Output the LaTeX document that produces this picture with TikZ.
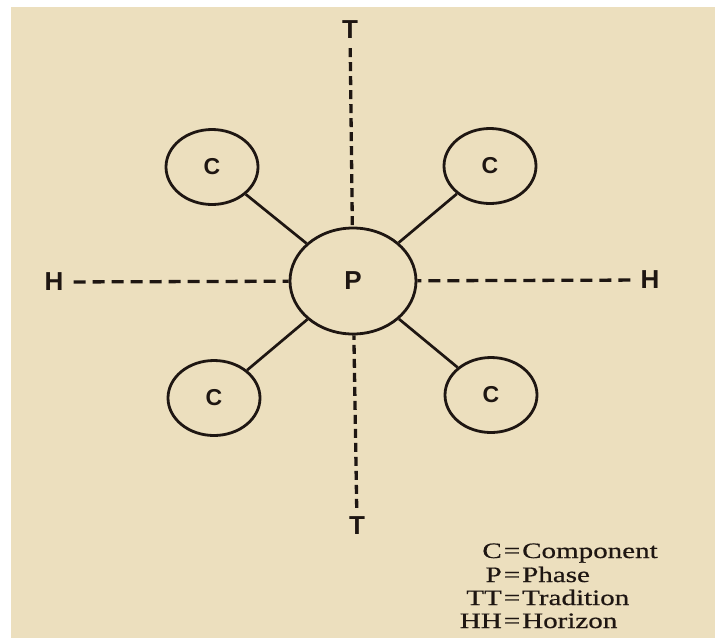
\documentclass[tikz,border=0pt]{standalone}
\usepackage{fontspec}
\usetikzlibrary{shapes.geometric}
\newfontfamily\lblfont{Liberation Sans}
\newfontfamily\legfont[FakeStretch=1.32,FakeBold=0.6]{Liberation Serif}
\definecolor{paper}{RGB}{236,223,190}
\definecolor{ink}{RGB}{30,22,18}
\tikzset{
  ell/.style={ellipse, draw=ink, line width=2.8pt, inner sep=0pt},
  pbox/.style={ell, minimum width=126pt, minimum height=106pt, font=\lblfont\bfseries\fontsize{26}{26}\selectfont, text=ink},
  cbox/.style={ell, minimum width=92pt, minimum height=75pt, font=\lblfont\bfseries\fontsize{23}{23}\selectfont, text=ink},
  axlbl/.style={font=\lblfont\bfseries\fontsize{26}{26}\selectfont, text=ink, inner sep=0pt},
  link/.style={draw=ink, line width=2.7pt},
  hdash/.style={draw=ink, line width=3.3pt, dash pattern=on 12pt off 7pt},
  vdash/.style={draw=ink, line width=3.3pt, dash pattern=on 9pt off 5pt},
  leg/.style={font=\legfont\fontsize{22}{22}\selectfont, text=ink, inner sep=0pt}
}
\begin{document}
\begin{tikzpicture}[x=1pt,y=-1pt]
\useasboundingbox (0,0) rectangle (715,638);
\fill[white] (0,0) rectangle (715,638);
\fill[paper] (11,7) rectangle (715,638);
% centre phase
\node[pbox] (P) at (353,281) {P};
% components
\node[cbox] (TL) at (212,167) {C};
\node[cbox] (TR) at (490,166) {C};
\node[cbox] (BL) at (214,398) {C};
\node[cbox] (BR) at (491,395) {C};
% axis labels
\node[axlbl] (Ttop) at (350,30) {T};
\node[axlbl] (Tbot) at (357,526) {T};
\node[axlbl] (Hl) at (54,282) {H};
\node[axlbl] (Hr) at (650,280) {H};
% links
\draw[link] (TL) -- (P);
\draw[link] (TR) -- (P);
\draw[link] (BL) -- (P);
\draw[link] (BR) -- (P);
% tradition / horizon
\draw[vdash, shorten <=9pt] (Ttop) -- (P);
\draw[vdash, shorten <=9pt] (Tbot) -- (P);
\draw[hdash, shorten <=10pt] (Hl) -- (P);
\draw[hdash, shorten <=10pt] (Hr) -- (P);
% legend
\node[leg, anchor=base east] (k1) at (502,558) {C};
\node[leg, anchor=base] (e1) at (512,558) {=};
\node[leg, anchor=base west] (v1) at (522,558) {Component};
\node[leg, anchor=base east] (k2) at (502,582) {P};
\node[leg, anchor=base] (e2) at (512,582) {=};
\node[leg, anchor=base west] (v2) at (522,582) {Phase};
\node[leg, anchor=base east] (k3) at (502,605) {TT};
\node[leg, anchor=base] (e3) at (512,605) {=};
\node[leg, anchor=base west] (v3) at (522,605) {Tradition};
\node[leg, anchor=base east] (k4) at (502,628) {HH};
\node[leg, anchor=base] (e4) at (512,628) {=};
\node[leg, anchor=base west] (v4) at (522,628) {Horizon};
\end{tikzpicture}
\end{document}
